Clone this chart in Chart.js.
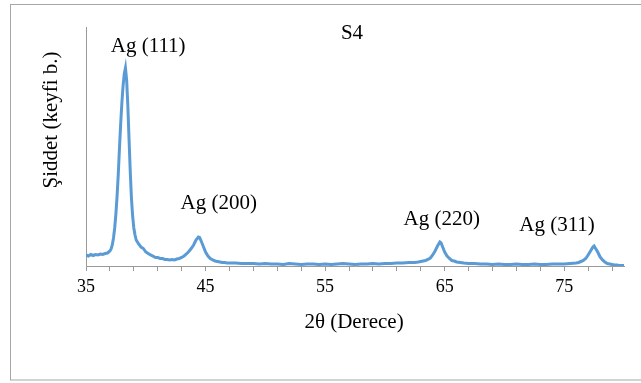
<!DOCTYPE html>
<html>
<head>
<meta charset="utf-8">
<script src="https://cdn.jsdelivr.net/npm/chart.js@4.4.1/dist/chart.umd.min.js"></script>
<style>
  html, body { margin: 0; padding: 0; background: #fff; }
  canvas { display: block; }
</style>
</head>
<body>
<canvas id="chart" width="641" height="383"></canvas>
<script>
// XRD pattern S4 (2θ in degrees, intensity in arbitrary units)
const twoTheta = [
  35.0, 35.2, 35.4, 35.6, 35.8, 36.0, 36.2, 36.4, 36.6, 36.8, 37.0,
  37.1, 37.2, 37.3, 37.4, 37.5, 37.6, 37.7, 37.8, 37.9, 38.0, 38.1, 38.2, 38.3,
  38.4, 38.5, 38.6, 38.7, 38.8, 38.9, 39.0, 39.1, 39.2,
  39.4, 39.6, 39.8, 40.0, 40.2, 40.4, 40.6, 40.8, 41.0, 41.2, 41.4, 41.6, 41.8,
  42.0, 42.2, 42.4, 42.6, 42.8, 43.0, 43.2, 43.4, 43.6, 43.8, 44.0, 44.2, 44.4,
  44.5, 44.6, 44.8, 45.0, 45.2, 45.4, 45.6, 45.8, 46.0, 46.2, 46.4, 46.6, 46.8, 47.0,
  47.5, 48.0, 48.5, 49.0, 49.5, 50.0, 50.5, 51.0, 51.5, 52.0, 52.5, 53.0, 53.5,
  54.0, 54.5, 55.0, 55.5, 56.0, 56.5, 57.0, 57.5, 58.0, 58.5, 59.0, 59.5, 60.0,
  60.5, 61.0, 61.5, 62.0, 62.5,
  62.8, 63.0, 63.2, 63.4, 63.6, 63.8, 64.0, 64.2, 64.4, 64.6, 64.7, 64.8, 65.0,
  65.2, 65.4, 65.6, 65.8, 66.0, 66.3, 66.6,
  67.0, 67.5, 68.0, 68.5, 69.0, 69.5, 70.0, 70.5, 71.0, 71.5, 72.0, 72.5, 73.0,
  73.5, 74.0, 74.5, 75.0, 75.5, 76.0,
  76.2, 76.4, 76.6, 76.8, 77.0, 77.2, 77.4, 77.5, 77.6, 77.8, 78.0, 78.2, 78.4,
  78.6, 78.8, 79.0, 79.2, 79.4, 79.6, 79.8, 80.0
];
const intensity = [
  11, 10, 11.5, 10.5, 11.5, 11, 12, 11.5, 12.5, 13, 15,
  17, 21, 28, 38, 52, 70, 92, 118, 142, 163, 180, 192, 198,
  186, 160, 127, 95, 68, 50, 38, 31, 26,
  22, 19, 17.5, 14, 12.5, 11, 10, 8.5, 8.5, 7.5, 7.5, 6.5, 6.5,
  6, 6.5, 6, 7, 7.5, 8.5, 10, 12, 14.5, 17.5, 21, 26, 29,
  28.5, 26, 20, 14, 10, 7.5, 6, 5, 4.5, 4, 3.5, 3.5, 3, 3,
  3, 2.5, 2.5, 2.5, 2, 2.5, 2, 2, 1.5, 2.5, 2, 1.5, 2,
  2, 1.5, 2, 1.5, 2, 2.5, 2, 1.5, 2, 2, 2.5, 2, 2.5,
  2.5, 3, 3, 3.5, 3.5,
  4, 4.5, 5, 5.5, 6.5, 8, 11, 15, 20, 24, 23, 20, 14,
  10, 7.5, 5.5, 5, 4, 3.5, 3,
  2.5, 2.5, 2, 2, 1.5, 2, 1.5, 1.5, 2, 1.5, 1.5, 2, 1.5,
  1.5, 2, 2, 2, 2.5, 3,
  3.5, 4.5, 5.5, 7.5, 11, 15, 19, 20, 18, 14, 9, 6, 4,
  2.5, 2, 1.5, 1, 1, 0.5, 0.5, 0.5
];

const xTicks = [35, 37, 39, 41, 43, 45, 47, 49, 51, 53, 55, 57, 59, 61, 63, 65, 67, 69, 71, 73, 75, 77, 79];
const xLabels = [35, 45, 55, 65, 75];

const peakNames = ['Ag (111)', 'Ag (200)', 'Ag (220)', 'Ag (311)'];
const peakLabelX = [40.2, 46.1, 64.75, 74.4];
const peakLabelY = [220, 62.5, 47, 41];

const axisColor = '#9a9a9a';
const serif = '"Liberation Serif", "Times New Roman", serif';

const textPlugin = {
  id: 'texts',
  beforeDraw(chart) {
    const ctx = chart.ctx;
    ctx.save();
    ctx.fillStyle = '#fff';
    ctx.fillRect(0, 0, chart.width, chart.height);
    ctx.strokeStyle = '#a6a6a6';
    ctx.lineWidth = 1;
    ctx.strokeRect(10.5, 4.5, 700, 375.5);
    ctx.restore();
  },
  afterDatasetsDraw(chart) {
    const { ctx, scales: { x, y } } = chart;
    ctx.save();
    ctx.fillStyle = '#000';
    ctx.font = '21px ' + serif;
    ctx.textAlign = 'center';
    ctx.textBaseline = 'middle';
    peakNames.forEach((t, i) => {
      ctx.fillText(t, x.getPixelForValue(peakLabelX[i]), y.getPixelForValue(peakLabelY[i]));
    });
    ctx.fillText('S4', 352, 33);
    ctx.fillText('2θ (Derece)', 354, 322);
    ctx.translate(51, 120);
    ctx.rotate(-Math.PI / 2);
    ctx.fillText('Şiddet (keyfi b.)', 0, 0);
    ctx.restore();
  }
};

const ctx = document.getElementById('chart').getContext('2d');
new Chart(ctx, {
  type: 'line',
  data: {
    datasets: [{
      data: twoTheta.map((t, i) => ({ x: t, y: intensity[i] })),
      borderColor: '#5b9bd5',
      borderWidth: 3,
      pointRadius: 0,
      fill: false,
      tension: 0
    }]
  },
  options: {
    responsive: false,
    animation: false,
    layout: { padding: { left: 0, top: 27, right: 17, bottom: 0 } },
    plugins: { legend: { display: false }, tooltip: { enabled: false } },
    scales: {
      x: {
        type: 'linear',
        min: 35,
        max: 80,
        afterFit(s) { s.height = 117; },
        afterBuildTicks(s) { s.ticks = xTicks.map(v => ({ value: v })); },
        ticks: {
          autoSkip: false,
          maxRotation: 0,
          padding: 5,
          color: '#000',
          font: { family: serif, size: 18 },
          callback: v => xLabels.includes(v) ? String(v) : ''
        },
        grid: { drawOnChartArea: false, drawTicks: true, tickLength: 5, color: axisColor },
        border: { color: axisColor, width: 1 }
      },
      y: {
        min: 0,
        max: 239,
        afterFit(s) { s.width = 86; },
        ticks: { display: false },
        grid: { drawOnChartArea: false, drawTicks: false, color: axisColor },
        border: { color: axisColor, width: 1 }
      }
    }
  },
  plugins: [textPlugin]
});
</script>
</body>
</html>
